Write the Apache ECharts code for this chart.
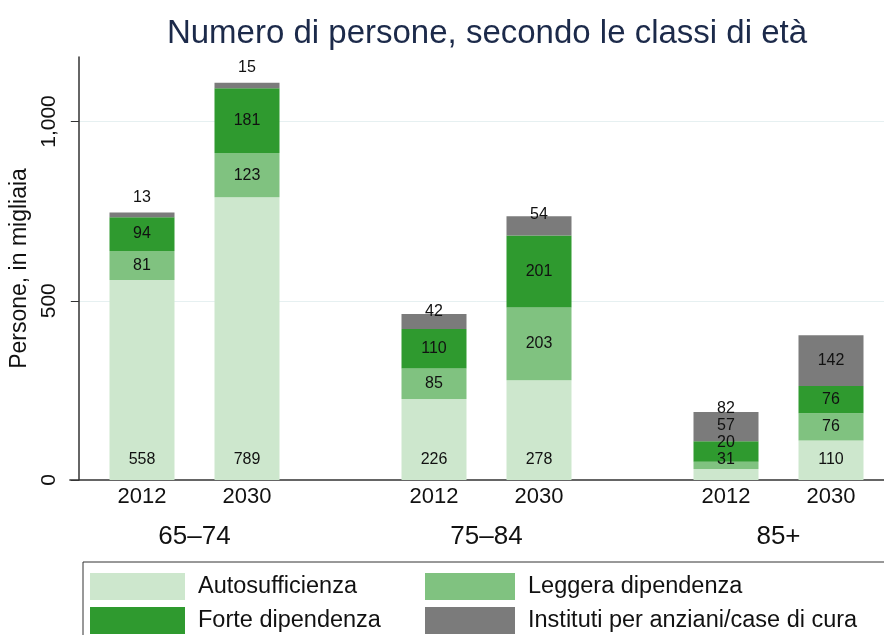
<!DOCTYPE html>
<html>
<head>
<meta charset="utf-8">
<script src="https://cdn.jsdelivr.net/npm/echarts@6/dist/echarts.min.js"></script>
<style>
  html, body { margin: 0; padding: 0; background: #fff; }
  #chart { width: 884px; height: 635px; }
</style>
</head>
<body>
<div id="chart"></div>
<script>
// dati: migliaia di persone per classe di età e anno
var anni = ['2012', '2030'];
var classiEta = ['65–74', '75–84', '85+'];
// ordine: 65-74 2012, 65-74 2030, 75-84 2012, 75-84 2030, 85+ 2012, 85+ 2030
var autosufficienza = [558, 789, 226, 278, 31, 110];
var leggeraDip = [81, 123, 85, 203, 20, 76];
var forteDip = [94, 181, 110, 201, 57, 76];
var istituti = [13, 15, 42, 54, 82, 142];
var yTicks = [0, 500, 1000];

var nomiSerie = ['Autosufficienza', 'Leggera dipendenza', 'Forte dipendenza', 'Instituti per anziani/case di cura'];
var colori = ['#cde7cd', '#80c280', '#2f9a2f', '#7b7b7b'];
var valori = [autosufficienza, leggeraDip, forteDip, istituti];

var chart = echarts.init(document.getElementById('chart'));

var yMax = 1180;
var plotTop = 57, plotBottom = 155;
var plotH = 635 - plotTop - plotBottom;
var k = plotH / yMax; // px per unità

// spostamento delle etichette (in px) perche' non si sovrappongano
function spostamenti(vals) {
  var out = [], cum = 0, prev = null;
  for (var i = 0; i < vals.length; i++) {
    var v = vals[i];
    var centro = (cum + v / 2) * k;
    var cima = (cum + v) * k;
    var want;
    if (i == 0) want = 20;
    else if (i == 3 && v < 30) want = cima + 15;
    else if (i == 3 && v < 100) want = cima + 2;
    else want = centro;
    if (prev != null && want < prev + 17) want = prev + 17;
    out.push(centro - want);
    prev = want;
    cum += v;
  }
  return out;
}

var shift = [];
for (var b = 0; b < autosufficienza.length; b++) {
  shift.push(spostamenti([autosufficienza[b], leggeraDip[b], forteDip[b], istituti[b]]));
}

// griglie: 0 = sfondo con asse y, 1..3 = gruppi di barre
var barCenters0 = [142, 434, 726];
var bandW = 210;
var grids = [{ left: 66, right: 0, top: plotTop, bottom: plotBottom }];
var xAxes = [{
  gridIndex: 0, type: 'value', min: 0, max: 1,
  axisLine: { show: true, lineStyle: { color: '#333', width: 1.5 } },
  axisTick: { show: false }, axisLabel: { show: false }, splitLine: { show: false }
}];
var yAxes = [{
  gridIndex: 0, type: 'value', min: 0, max: yMax, interval: 500, offset: -9,
  name: 'Persone, in migliaia', nameLocation: 'middle', nameRotate: 90, nameGap: 45,
  nameTextStyle: { fontSize: 23, color: '#111', fontFamily: 'Liberation Sans' },
  axisLine: { show: true, lineStyle: { color: '#333', width: 1.5 } },
  axisTick: { show: true, length: 8, customValues: yTicks, lineStyle: { color: '#333' } },
  axisLabel: {
    rotate: 90, margin: 19, fontSize: 21, color: '#111', fontFamily: 'Liberation Sans',
    customValues: yTicks,
    formatter: function (v) { return v % 500 === 0 ? v.toLocaleString('en-US') : ''; }
  },
  splitLine: { show: true, showMinLine: false, lineStyle: { color: '#e6f0f1', width: 1 } }
}];
var series = [];

for (var g = 0; g < classiEta.length; g++) {
  grids.push({ left: barCenters0[g] - bandW / 4, width: bandW, top: plotTop, bottom: plotBottom });
  xAxes.push({
    gridIndex: g + 1, type: 'category', data: anni,
    name: classiEta[g], nameLocation: 'middle', nameGap: 44,
    nameTextStyle: { fontSize: 26, color: '#111', fontFamily: 'Liberation Sans' },
    axisLine: { show: false }, axisTick: { show: false },
    axisLabel: { fontSize: 22, color: '#111', margin: 6, fontFamily: 'Liberation Sans' }
  });
  yAxes.push({ gridIndex: g + 1, type: 'value', min: 0, max: yMax, show: false, splitLine: { show: false } });
  for (var s = 0; s < nomiSerie.length; s++) {
    var dati = [];
    for (var a = 0; a < anni.length; a++) {
      var idx = g * 2 + a;
      dati.push({ value: valori[s][idx], label: { offset: [0, shift[idx][s]] } });
    }
    series.push({
      name: nomiSerie[s],
      type: 'bar',
      xAxisIndex: g + 1,
      yAxisIndex: g + 1,
      stack: 'gruppo' + g,
      barWidth: 65,
      itemStyle: { color: colori[s] },
      label: { show: true, position: 'inside', fontSize: 16, color: '#111', fontFamily: 'Liberation Sans' },
      emphasis: { disabled: true },
      data: dati
    });
  }
}

var option = {
  animation: false,
  title: {
    text: 'Numero di persone, secondo le classi di età',
    left: 482, top: 12, textAlign: 'center',
    textStyle: { fontSize: 33, fontWeight: 'normal', color: '#1c2a4a', fontFamily: 'Liberation Sans' }
  },
  legend: [{
    data: ['Autosufficienza', 'Forte dipendenza'],
    orient: 'vertical', left: 90, top: 573, padding: 0, height: 62,
    itemWidth: 95, itemHeight: 27, itemGap: 7, icon: 'rect', selectedMode: false,
    textStyle: { fontSize: 23.5, color: '#111', fontFamily: 'Liberation Sans', padding: [0, 0, 0, 8] }
  }, {
    data: ['Leggera dipendenza', 'Instituti per anziani/case di cura'],
    orient: 'vertical', left: 425, top: 573, padding: 0, height: 62,
    itemWidth: 90, itemHeight: 27, itemGap: 7, icon: 'rect', selectedMode: false,
    textStyle: { fontSize: 23.5, color: '#111', fontFamily: 'Liberation Sans', padding: [0, 0, 0, 8] }
  }],
  graphic: [{
    type: 'rect', shape: { x: 83, y: 562, width: 820, height: 90 },
    style: { fill: 'none', stroke: '#333', lineWidth: 1 }, silent: true
  }],
  grid: grids,
  xAxis: xAxes,
  yAxis: yAxes,
  series: series
};

chart.setOption(option);
window.addEventListener('resize', function () { chart.resize(); });
</script>
</body>
</html>
